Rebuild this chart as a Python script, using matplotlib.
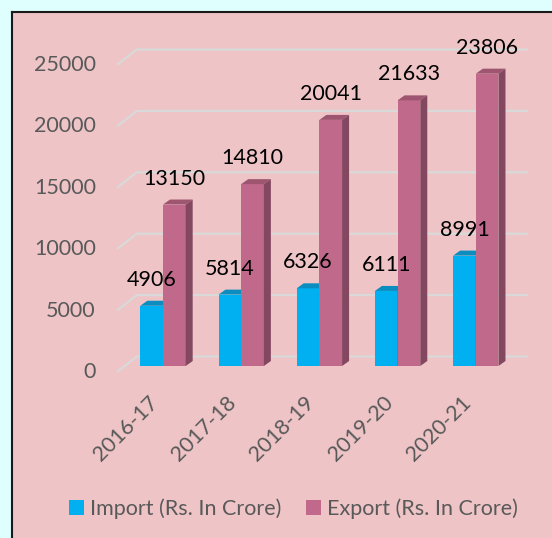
import matplotlib
matplotlib.use('Agg')
import matplotlib.pyplot as plt
from matplotlib.patches import Polygon, Rectangle, Patch
from matplotlib.lines import Line2D

years = ['2016-17', '2017-18', '2018-19', '2019-20', '2020-21']
imports = [4906, 5814, 6326, 6111, 8991]
exports = [13150, 14810, 20041, 21633, 23806]
yticks = [0, 5000, 10000, 15000, 20000, 25000]
series_names = ['Import (Rs. In Crore)', 'Export (Rs. In Crore)']

plt.rcParams['font.family'] = ['Lato', 'DejaVu Sans']
FS = 15.5
GRAY = '#595959'
IMP = ('#00B0F0', '#0B8DBF', '#0A86B5')   # front, cap, side
EXP = ('#C0698A', '#9E5670', '#834760')

W, H = 552, 538
fig = plt.figure(figsize=(W / 100, H / 100), dpi=100)
fig.patch.set_facecolor('#DFFFFF')
fig.patches.append(Rectangle((12 / W, 0), 1 - 12 / W, 1 - 12 / H, transform=fig.transFigure,
                             facecolor='#EEC4C6', edgecolor='none', zorder=-2))
fig.lines.append(Line2D([12 / W, 1], [1 - 12 / H] * 2, transform=fig.transFigure, color='#1a1a1a',
                        lw=1.5, zorder=-1))
fig.lines.append(Line2D([12 / W] * 2, [0, 1 - 12 / H], transform=fig.transFigure, color='#1a1a1a',
                        lw=1.5, zorder=-1))

ax = fig.add_axes([123.9 / W, (H - 366) / H, 391 / W, 307 / H])
ax.set_xlim(-0.5, 4.5)
ax.set_ylim(0, 25000)
ax.axis('off')


def shift(x, y, dx, dy):
    X, Y = ax.transData.transform((x, y))
    return tuple(ax.transData.inverted().transform((X + dx, Y + dy)))


# gridlines (3D wall + floor edge)
for v in yticks:
    p0 = shift(-0.5, v, -7, -6)
    p1 = shift(-0.5, v, 13, 9.5)
    p2 = shift(4.5, v, 13, 9.5)
    ax.plot([p0[0], p1[0], p2[0]], [p0[1], p1[1], p2[1]], color='#D9D9D9', lw=1.6,
            clip_on=False, zorder=1, solid_capstyle='butt')
    ax.annotate(f'{v}', xy=(-0.5, v), xytext=(-28, -6), textcoords='offset pixels',
                ha='right', va='center', fontsize=FS, color=GRAY)

BW = 0.29
DX, DY = 7, 5


def bar3d(x0, x1, v, cols, z):
    ax.add_patch(Polygon([(x0, 0), (x1, 0), (x1, v), (x0, v)], closed=True,
                         facecolor=cols[0], edgecolor='none', zorder=z))
    ax.add_patch(Polygon([(x0, v), (x1, v), shift(x1, v, DX, DY), shift(x0, v, DX, DY)],
                         closed=True, facecolor=cols[1], edgecolor='none', zorder=z))
    ax.add_patch(Polygon([(x1, 0), (x1, v), shift(x1, v, DX, DY), shift(x1, 0, DX, DY)],
                         closed=True, facecolor=cols[2], edgecolor='none', zorder=z))


for i, (vi, ve) in enumerate(zip(imports, exports)):
    bar3d(i - BW, i, vi, IMP, 3)
    bar3d(i, i + BW, ve, EXP, 4)
    ax.annotate(f'{vi}', xy=(i - BW / 2, vi), xytext=(0, 26), textcoords='offset pixels',
                ha='center', va='center', fontsize=FS, color='black', zorder=6)
    ax.annotate(f'{ve}', xy=(i + BW / 2, ve), xytext=(0, 26), textcoords='offset pixels',
                ha='center', va='center', fontsize=FS, color='black', zorder=6)
    ax.annotate(years[i], xy=(i, 0), xytext=(-8, -34), textcoords='offset pixels',
                rotation=45, rotation_mode='anchor', ha='right', va='center',
                fontsize=FS, color=GRAY)

handles = [Patch(facecolor=IMP[0], edgecolor='none'), Patch(facecolor=EXP[0], edgecolor='none')]
fig.legend(handles, series_names, loc='center', bbox_to_anchor=(293.5 / W, 1 - 509 / H),
           ncol=2, frameon=False, fontsize=FS, handlelength=0.67, handleheight=0.67,
           handletextpad=0.3, columnspacing=1.15, labelcolor=GRAY, borderpad=0, borderaxespad=0)

fig.savefig('out.png', dpi=100, facecolor=fig.get_facecolor())
